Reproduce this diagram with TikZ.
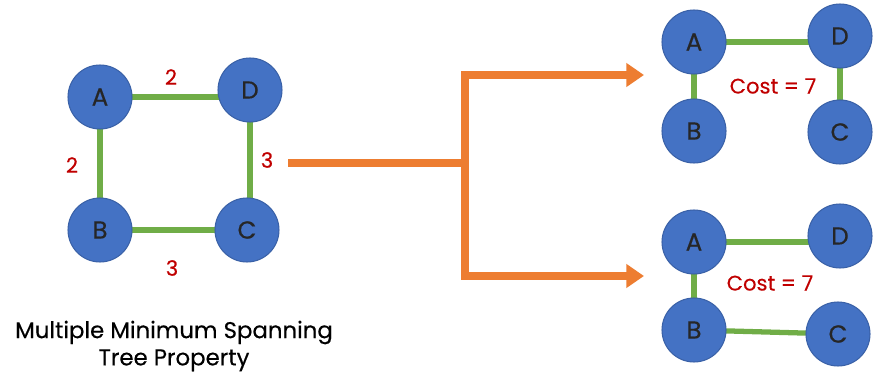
\documentclass[tikz,border=0pt]{standalone}
\usepackage{fontspec}
\setmainfont{Poppins}[FakeBold=0.35]
\usetikzlibrary{arrows.meta,backgrounds}

\definecolor{nodeblue}{HTML}{4472C4}
\definecolor{edgegreen}{HTML}{70AD47}
\definecolor{flow}{HTML}{ED7D31}
\definecolor{costred}{HTML}{C00000}

\tikzset{
  vertex/.style={circle,fill=nodeblue,draw=nodeblue!85!black,line width=0.6pt,minimum size=1.28cm,inner sep=0pt,text=black!85,font=\fontsize{14}{16}\selectfont},
  link/.style={draw=edgegreen,line width=3pt},
  weight/.style={text=costred,font=\fontsize{12}{14}\selectfont},
  cost/.style={text=costred,font=\fontsize{12}{14}\selectfont},
  branch/.style={draw=flow,line width=4.2pt,line join=miter},
  caption/.style={align=center,font=\fontsize{13}{15.5}\selectfont}
}

\begin{document}
\begin{tikzpicture}[x=0.02cm,y=-0.02cm]
\useasboundingbox (0,0) rectangle (880,372);

%% original graph
\node[vertex] (lA) at (100,97) {A};
\node[vertex] (lD) at (250,90) {D};
\node[vertex] (lB) at (100,230) {B};
\node[vertex] (lC) at (247,230) {C};
\begin{scope}[on background layer]
\draw[link] (lA.center) -- (lA.center -| lD);
\draw[link] (lA.center) -- (lB.center);
\draw[link] (lD.center) -- (lD.center |- lC);
\draw[link] (lB.center) -- (lC.center);
\end{scope}
\node[weight] (wAD) at (171,77) {2};
\node[weight] (wAB) at (72,165) {2};
\node[weight] (wDC) at (267,160) {3};
\node[weight] (wBC) at (172,268) {3};

\node[caption] (title) at (174,346) {Multiple Minimum Spanning\\Tree Property};

%% arrows to the two trees
\coordinate (src) at (288,163);
\coordinate (fork) at (465,163);
\coordinate (tipT) at (644,75);
\coordinate (tipB) at (644,276);
\draw[branch] (src) -- (fork);
\draw[branch,-{Triangle[length=10pt,width=13pt]}] (fork) |- (tipT);
\draw[branch,-{Triangle[length=10pt,width=13pt]}] (fork) |- (tipB);

%% first tree: A-D, A-B, D-C
\node[vertex] (tA) at (694,42) {A};
\node[vertex] (tD) at (840,36) {D};
\node[vertex] (tB) at (694,131) {B};
\node[vertex] (tC) at (840,132) {C};
\begin{scope}[on background layer]
\draw[link] (tA.center) -- (tA.center -| tD);
\draw[link] (tA.center) -- (tB.center);
\draw[link] (tD.center) -- (tC.center);
\end{scope}
\node[cost] (tcost) at (773,86) {Cost = 7};

%% second tree: A-D, A-B, B-C
\node[vertex] (bA) at (694,242) {A};
\node[vertex] (bD) at (840,236) {D};
\node[vertex] (bB) at (694,330) {B};
\node[vertex] (bC) at (838,334) {C};
\begin{scope}[on background layer]
\draw[link] (bA.center) -- (bA.center -| bD);
\draw[link] (bA.center) -- (bB.center);
\draw[link] (bB.center) -- (bC.center);
\end{scope}
\node[cost] (bcost) at (770,283) {Cost = 7};
\end{tikzpicture}
\end{document}
